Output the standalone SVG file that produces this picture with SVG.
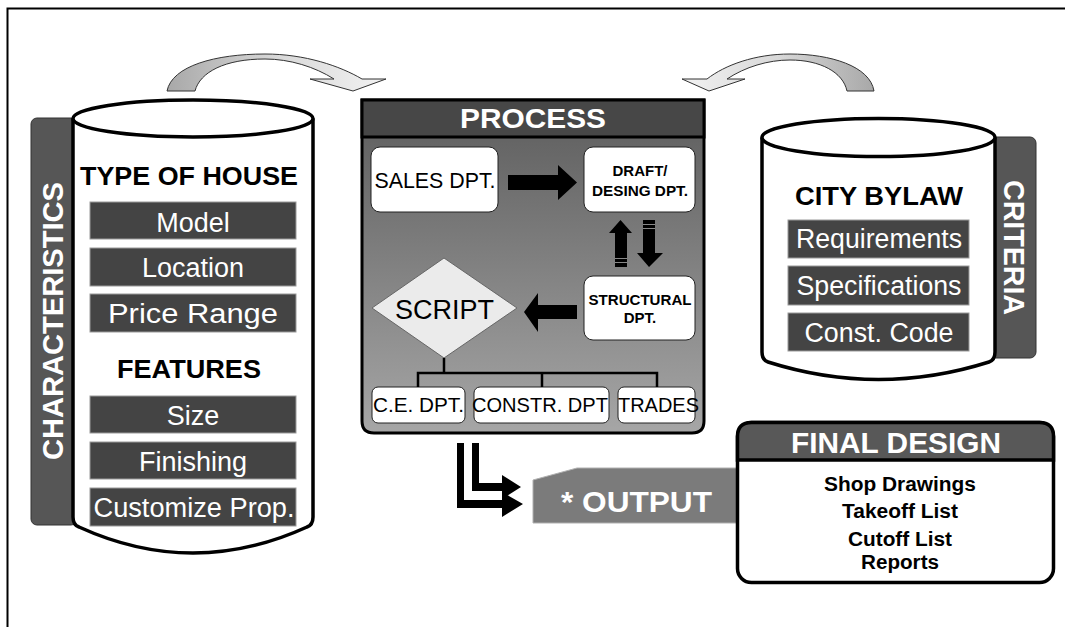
<svg xmlns="http://www.w3.org/2000/svg" width="1065" height="627" viewBox="0 0 1065 627">
<defs>
<style>
.t{font-family:"Liberation Sans",Arial,sans-serif}
.b{font-weight:bold}
.w{fill:#fff}
.k{fill:#000}
.c{text-anchor:middle}
.item{fill:#444;stroke:#9a9a9a;stroke-width:1}
.dept{fill:#fff;stroke:#222;stroke-width:1}
.cyl{fill:#fff;stroke:#000;stroke-width:3.5}
.bar{fill:#565656;stroke:#333;stroke-width:1}
.arr{fill:#000}
.tree{fill:none;stroke:#000;stroke-width:2.5}
</style>
<linearGradient id="gBody" x1="0" y1="0" x2="0" y2="1">
<stop offset="0" stop-color="#5c5c5c"/>
<stop offset="1" stop-color="#a6a6a6"/>
</linearGradient>
<linearGradient id="gL" x1="0" y1="0" x2="1" y2="0">
<stop offset="0" stop-color="#a8a8a8"/>
<stop offset="0.5" stop-color="#d8d8d8"/>
<stop offset="1" stop-color="#f2f2f2"/>
</linearGradient>
<linearGradient id="gR" x1="1" y1="0" x2="0" y2="0">
<stop offset="0" stop-color="#a8a8a8"/>
<stop offset="0.5" stop-color="#d8d8d8"/>
<stop offset="1" stop-color="#f2f2f2"/>
</linearGradient>
</defs>
<rect width="1065" height="627" fill="#fff"/>
<path d="M7.5,627 V8.5 H1065" fill="none" stroke="#000" stroke-width="2"/>

<g id="characteristics">
<rect class="bar" x="31" y="118" width="46" height="407" rx="6"/>
<text class="t b w c" font-size="30" textLength="278" lengthAdjust="spacingAndGlyphs" transform="translate(63,321) rotate(-90)">CHARACTERISTICS</text>
</g>

<g id="house-cylinder">
<path class="cyl" d="M73,118.5 V517 Q73,525 79,527 Q193,579 307,527 Q313,525 313,517 V118.5"/>
<ellipse class="cyl" cx="193" cy="118.5" rx="120" ry="18.5"/>
<text class="t b k c" x="189" y="185" font-size="26" textLength="218" lengthAdjust="spacingAndGlyphs">TYPE OF HOUSE</text>
<rect class="item" x="90" y="202" width="206" height="37"/>
<text class="t w c" x="193" y="232" font-size="27">Model</text>
<rect class="item" x="90" y="248" width="206" height="38"/>
<text class="t w c" x="193" y="277" font-size="27">Location</text>
<rect class="item" x="90" y="294" width="206" height="38"/>
<text class="t w c" x="193" y="323" font-size="27" textLength="170" lengthAdjust="spacingAndGlyphs">Price Range</text>
<text class="t b k c" x="189" y="378" font-size="26" textLength="144" lengthAdjust="spacingAndGlyphs">FEATURES</text>
<rect class="item" x="90" y="396" width="206" height="37"/>
<text class="t w c" x="193" y="425" font-size="27">Size</text>
<rect class="item" x="90" y="442" width="206" height="37"/>
<text class="t w c" x="193" y="471" font-size="27">Finishing</text>
<rect class="item" x="90" y="488" width="206" height="38"/>
<text class="t w c" x="194" y="517" font-size="27" textLength="201" lengthAdjust="spacingAndGlyphs">Customize Prop.</text>
</g>

<g id="criteria">
<rect class="bar" x="988" y="137" width="48" height="221" rx="6"/>
<text class="t b w c" font-size="30" textLength="135" lengthAdjust="spacingAndGlyphs" transform="translate(1004,247.5) rotate(90)">CRITERIA</text>
</g>

<g id="bylaw-cylinder">
<path class="cyl" d="M762,137.5 V352 Q762,360 768,362 Q878.5,397 989,362 Q995,360 995,352 V137.5"/>
<ellipse class="cyl" cx="878.5" cy="137.5" rx="116.5" ry="19"/>
<text class="t b k c" x="879" y="205" font-size="26" textLength="168" lengthAdjust="spacingAndGlyphs">CITY BYLAW</text>
<rect class="item" x="788" y="220" width="181" height="38"/>
<text class="t w c" x="879" y="248" font-size="27" textLength="166" lengthAdjust="spacingAndGlyphs">Requirements</text>
<rect class="item" x="788" y="266" width="181" height="39"/>
<text class="t w c" x="879" y="295" font-size="27" textLength="165" lengthAdjust="spacingAndGlyphs">Specifications</text>
<rect class="item" x="788" y="313" width="181" height="38"/>
<text class="t w c" x="879" y="342" font-size="27" textLength="149" lengthAdjust="spacingAndGlyphs">Const. Code</text>
</g>

<g id="process">
<path d="M362,100 H704 V421 Q704,433 692,433 H374 Q362,433 362,421 Z" fill="url(#gBody)" stroke="#000" stroke-width="3"/>
<rect x="362" y="100" width="342" height="37" fill="#474747" stroke="#000" stroke-width="3"/>
<text class="t b w c" x="533" y="128" font-size="28" textLength="146" lengthAdjust="spacingAndGlyphs">PROCESS</text>
</g>

<g id="sales">
<rect class="dept" x="371" y="147" width="127" height="65" rx="9"/>
<text class="t k c" x="435" y="188" font-size="21.5" textLength="121" lengthAdjust="spacingAndGlyphs">SALES DPT.</text>
</g>
<g id="draft">
<rect class="dept" x="584" y="147" width="111" height="65" rx="9"/>
<text class="t b k c" x="640" y="176" font-size="15">DRAFT/</text>
<text class="t b k c" x="640" y="196" font-size="15" textLength="96" lengthAdjust="spacingAndGlyphs">DESING DPT.</text>
</g>
<g id="structural">
<rect class="dept" x="584" y="276" width="111" height="64" rx="9"/>
<text class="t b k c" x="640" y="305" font-size="15" textLength="103" lengthAdjust="spacingAndGlyphs">STRUCTURAL</text>
<text class="t b k c" x="640" y="323" font-size="15">DPT.</text>
</g>
<g id="script">
<polygon points="444,258 517,308 444,358 372,308" fill="#ebebeb" stroke="#666" stroke-width="1"/>
<text class="t k c" x="444.5" y="319" font-size="27" textLength="99" lengthAdjust="spacingAndGlyphs">SCRIPT</text>
</g>
<g id="ce-dpt">
<rect class="dept" x="372" y="387" width="93" height="36" rx="6"/>
<text class="t k c" x="418.5" y="412" font-size="21" textLength="91" lengthAdjust="spacingAndGlyphs">C.E. DPT.</text>
</g>
<g id="constr-dpt">
<rect class="dept" x="474" y="387" width="135" height="36" rx="6"/>
<text class="t k c" x="540" y="412" font-size="21" textLength="136" lengthAdjust="spacingAndGlyphs">CONSTR. DPT</text>
</g>
<g id="trades">
<rect class="dept" x="618" y="387" width="77" height="36" rx="6"/>
<text class="t k c" x="658.5" y="412" font-size="21" textLength="81" lengthAdjust="spacingAndGlyphs">TRADES</text>
</g>

<g id="output">
<polygon points="533,480 577,468 740,468 740,523 533,523" fill="#7b7b7b" stroke="#b0b0b0" stroke-width="1"/>
<text class="t b w" x="561" y="512" font-size="30" textLength="151" lengthAdjust="spacingAndGlyphs">* OUTPUT</text>
</g>

<g id="final-design">
<rect x="737.5" y="422.5" width="316" height="160" rx="14" fill="#fff" stroke="#000" stroke-width="3.5"/>
<path d="M737.5,460 V436.5 Q737.5,422.5 751.5,422.5 H1039.5 Q1053.5,422.5 1053.5,436.5 V460 Z" fill="#585858" stroke="#000" stroke-width="3.5"/>
<text class="t b w c" x="896" y="453" font-size="30" textLength="210" lengthAdjust="spacingAndGlyphs">FINAL DESIGN</text>
<text class="t b k c" x="900" y="491" font-size="20" textLength="152" lengthAdjust="spacingAndGlyphs">Shop Drawings</text>
<text class="t b k c" x="900" y="518" font-size="20" textLength="116" lengthAdjust="spacingAndGlyphs">Takeoff List</text>
<text class="t b k c" x="900" y="546" font-size="20" textLength="104" lengthAdjust="spacingAndGlyphs">Cutoff List</text>
<text class="t b k c" x="900" y="569" font-size="20" textLength="78" lengthAdjust="spacingAndGlyphs">Reports</text>
</g>

<g id="connectors">
<path d="M167,91 C172,66 215,54 265,54 C305,54 340,66 362,79 L386,79 L353,91 L310,79 L334,79 C315,67 290,59 265,59 C225,59 200,72 195,91 Z" fill="url(#gL)" stroke="#333" stroke-width="1"/>
<path d="M874,91 C870,66 830,54 790,54 C755,54 725,65 707,79 L682,79 L709,91 L745,79 L727,79 C745,67 768,60 790,60 C820,60 843,72 847,91 Z" fill="url(#gR)" stroke="#333" stroke-width="1"/>
<polygon class="arr" points="508,175 558,175 558,165 577,182.5 558,200 558,190 508,190"/>
<polygon class="arr" points="615,267 615,233 609,233 620.5,220 632,233 627,233 627,267"/>
<polygon class="arr" points="643,220 655,220 655,253 663,253 649,267 637,253 643,253"/>
<path d="M615,258.5 H627 M615,262.5 H627 M643,224.5 H655 M643,228.5 H655" stroke="#888" stroke-width="1"/>
<polygon class="arr" points="577,305 538,305 538,293 524,312 538,332 538,319 577,319"/>
<path class="tree" d="M444,358 V373 M418,387 V373 H657 V387 M542,373 V387"/>
<polygon class="arr" points="457,443 464,443 464,500 502,500 502,492 523,504 502,517 502,508 457,508"/>
<polygon class="arr" points="472,443 479,443 479,483 502,483 502,475 521,487 502,499 502,491 472,491"/>
</g>
</svg>
